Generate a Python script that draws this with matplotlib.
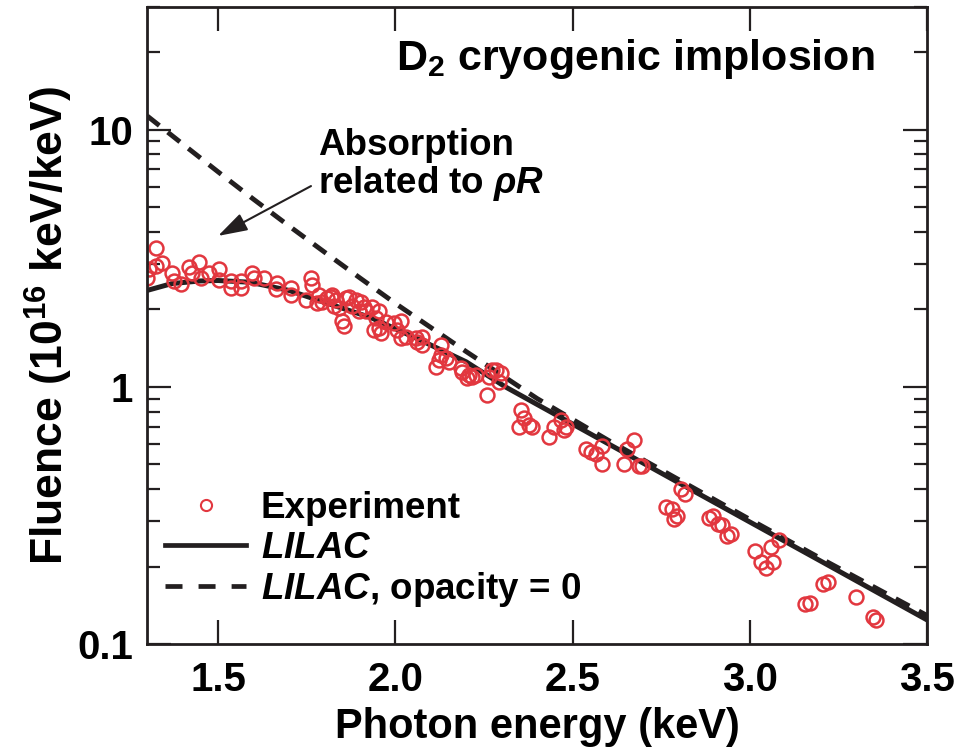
import matplotlib
matplotlib.use("Agg")
import matplotlib.pyplot as plt
from matplotlib.lines import Line2D
from matplotlib.ticker import LogLocator, NullFormatter

plt.rcParams['font.family'] = ['Liberation Sans', 'DejaVu Sans']
plt.rcParams['font.weight'] = 'bold'
plt.rcParams['mathtext.fontset'] = 'custom'
plt.rcParams['mathtext.rm'] = 'Liberation Sans:bold'
plt.rcParams['mathtext.it'] = 'Liberation Sans:bold:italic'
plt.rcParams['mathtext.bf'] = 'Liberation Sans:bold'

# ---- data ----
exp_energy = [1.325, 1.306, 1.300, 1.342, 1.325, 1.370, 1.376, 1.396, 1.418, 1.427,
              1.446, 1.452, 1.475, 1.503, 1.503, 1.537, 1.537, 1.565, 1.565, 1.596,
              1.601, 1.630, 1.666, 1.663, 1.706, 1.706,
              1.748, 1.762, 1.765, 1.785, 1.793, 1.818, 1.832, 1.849, 1.861, 1.877,
              1.903, 1.917, 1.934, 1.954, 1.945, 1.954, 1.973, 1.996, 2.004, 1.821,
              1.841, 1.855, 1.911, 1.939, 1.959, 2.015, 2.015, 1.807, 1.889, 1.869,
              1.827, 1.897, 1.779,
              2.030, 2.058, 2.075, 2.075, 2.061, 2.128, 2.128, 2.123, 2.142, 2.114,
              2.151, 2.187, 2.207, 2.215, 2.201, 2.185, 2.227,
              2.263, 2.283, 2.297, 2.292, 2.258, 2.272, 2.354, 2.362, 2.348, 2.385, 2.376,
              2.432, 2.446, 2.466, 2.480, 2.475, 2.537, 2.551, 2.565, 2.582, 2.582,
              2.644, 2.652, 2.672, 2.686, 2.694, 2.762, 2.779, 2.785, 2.793, 2.804, 2.818,
              2.883, 2.897, 2.911, 2.920, 2.934, 2.945, 3.015, 3.030, 3.044, 3.058,
              3.066, 3.083, 3.156, 3.170, 3.207, 3.221, 3.300, 3.348, 3.356]
exp_fluence = [3.47, 2.88, 2.66, 3.04, 2.96, 2.76, 2.59, 2.52, 2.91, 2.78,
               3.07, 2.66, 2.76, 2.86, 2.61, 2.59, 2.43, 2.59, 2.43, 2.78,
               2.64, 2.66, 2.54, 2.41, 2.43, 2.27,
               2.17, 2.64, 2.48, 2.27, 2.13, 2.23, 2.17, 1.81, 2.21, 2.07,
               2.13, 1.98, 2.04, 1.98, 1.85, 1.70, 1.78, 1.77, 1.66, 2.27,
               2.02, 1.73, 2.04, 1.66, 1.62, 1.81, 1.55, 2.21, 2.17, 2.23,
               2.07, 1.98, 2.11,
               1.56, 1.55, 1.56, 1.45, 1.49, 1.45, 1.33, 1.27, 1.29, 1.19,
               1.25, 1.14, 1.11, 1.09, 1.08, 1.18, 1.11,
               1.09, 1.16, 1.13, 1.04, 0.93, 1.16, 0.815, 0.759, 0.695, 0.70, 0.713,
               0.641, 0.70, 0.746, 0.70, 0.682, 0.571, 0.556, 0.546, 0.587, 0.500,
               0.500, 0.571, 0.624, 0.491, 0.491, 0.341, 0.335, 0.306, 0.315, 0.400, 0.383,
               0.309, 0.315, 0.293, 0.290, 0.264, 0.268, 0.231, 0.209, 0.197, 0.239,
               0.209, 0.254, 0.143, 0.144, 0.172, 0.175, 0.153, 0.127, 0.124]

lilac_energy = [1.30, 1.37, 1.45, 1.50, 1.59, 1.70, 1.80, 1.93, 2.07, 2.20, 2.31,
                2.60, 2.80, 3.00, 3.20, 3.50]
lilac_fluence = [2.37, 2.52, 2.58, 2.59, 2.55, 2.37, 2.13, 1.86, 1.52, 1.25, 1.00,
                 0.601, 0.423, 0.298, 0.21, 0.124]

opac0_energy = [1.30, 1.40, 1.50, 1.60, 1.70, 1.80, 1.90, 2.00, 2.20, 2.40, 2.60,
                2.80, 3.00, 3.20, 3.50]
opac0_fluence = [11.3, 8.79, 6.85, 5.36, 4.22, 3.34, 2.65, 2.11, 1.37, 0.90, 0.62,
                 0.435, 0.305, 0.215, 0.129]

xticks = [1.5, 2.0, 2.5, 3.0, 3.5]
xtick_labels = ['1.5', '2.0', '2.5', '3.0', '3.5']
yticks = [0.1, 1, 10]
ytick_labels = ['0.1', '1', '10']

RED = '#e2373f'
BLACK = '#231f20'

fig = plt.figure(figsize=(9.68, 7.56), dpi=100)
ax = fig.add_axes([0.152, 0.148, 0.806, 0.843])

ax.plot(opac0_energy, opac0_fluence, color=BLACK, lw=3.5, dashes=(3.2, 2.2),
        solid_capstyle='butt', dash_capstyle='butt')
ax.plot(lilac_energy, lilac_fluence, color=BLACK, lw=3.6)
ax.plot(exp_energy, exp_fluence, 'o', mfc='none', mec=RED, ms=10, mew=1.8)

ax.set_yscale('log')
ax.set_xlim(1.3, 3.5)
ax.set_ylim(0.1, 30)

ax.set_xticks(xticks)
ax.set_xticklabels(xtick_labels)
ax.set_yticks(yticks)
ax.set_yticklabels(ytick_labels)
ax.yaxis.set_minor_locator(LogLocator(base=10, subs=range(2, 10)))
ax.yaxis.set_minor_formatter(NullFormatter())

for s in ax.spines.values():
    s.set_linewidth(2.0)
    s.set_color(BLACK)
ax.tick_params(which='both', direction='in', top=True, right=True, color=BLACK)
ax.tick_params(which='major', length=17, width=1.6, labelsize=29, pad=10)
ax.tick_params(axis='x', which='major', pad=12)
ax.tick_params(which='minor', length=9.5, width=1.6)

ax.set_xlabel('Photon energy (keV)', fontsize=30, fontweight='bold')
ax.set_ylabel('Fluence (10$^{16}$ keV/keV)', fontsize=32, fontweight='bold')
ax.xaxis.set_label_coords(0.5, -0.098)
ax.yaxis.set_label_coords(-0.092, 0.5)

ax.text(0.933, 0.901, 'D$_2$ cryogenic implosion', transform=ax.transAxes,
        ha='right', va='baseline', fontsize=31, fontweight='bold')

ax.text(0.219, 0.81, 'Absorption\nrelated to $\\rho\\mathit{R}$', transform=ax.transAxes,
        ha='left', va='top', fontsize=26.5, fontweight='bold', linespacing=1.05)
ax.annotate('', xy=(1.50, 3.86), xytext=(1.762, 6.03),
            arrowprops=dict(arrowstyle='-|>,head_length=0.9,head_width=0.28', lw=1.5,
                            color=BLACK, shrinkA=0, shrinkB=0, mutation_scale=20))

handles = [Line2D([], [], ls='none', marker='o', mfc='none', mec=RED, ms=8, mew=1.5),
           Line2D([], [], color=BLACK, lw=3.4),
           Line2D([], [], color=BLACK, lw=3.4, dashes=(3.6, 3.4))]
labels = ['Experiment', '$\\mathit{LILAC}$', '$\\mathit{LILAC}$, opacity = 0']
leg = ax.legend(handles, labels, loc='lower left', bbox_to_anchor=(0.023, 0.055),
                frameon=False, fontsize=26.5, handlelength=2.2, handletextpad=0.4,
                labelspacing=0.12, borderpad=0, borderaxespad=0)

fig.savefig('out.png', dpi=100)
